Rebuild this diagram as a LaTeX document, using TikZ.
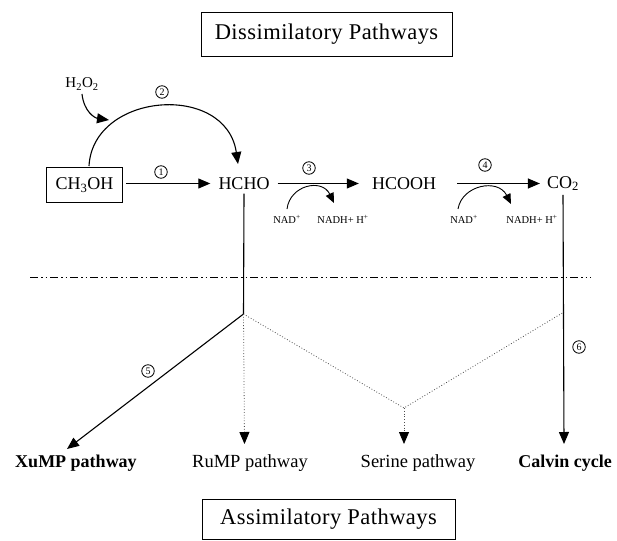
\documentclass[tikz,border=0pt]{standalone}
\usepackage{fontspec}
\setmainfont{Liberation Serif}
\usetikzlibrary{arrows.meta}
\begin{document}
\begin{tikzpicture}[x=1pt,y=-1pt,
  species/.style={inner sep=4pt, font=\fontsize{18}{20}\selectfont},
  title/.style={draw, line width=0.8pt, inner sep=0pt, font=\fontsize{22.5}{24}\selectfont\addfontfeatures{LetterSpace=2}},
  cof/.style={inner sep=1pt, font=\fontsize{10.5}{12}\selectfont},
  num/.style={circle, draw, line width=0.8pt, inner sep=0pt, minimum size=12.5pt, font=\fontsize{10}{10}\selectfont},
  plabel/.style={inner sep=0pt, anchor=base, font=\fontsize{18.5}{20}\selectfont},
  tip/.style={-{Triangle[length=12pt,width=10pt,black]}},
  arr/.style={tip, line width=1.1pt},
  arrs/.style={-{Triangle[length=10pt,width=8.5pt]}, line width=0.9pt},
  solid line/.style={line width=1.1pt},
  dotl/.style={dotted, line width=0.8pt, black!70},
  dotarr/.style={dotl, tip}
]
\useasboundingbox (0,0) rectangle (617,540);

% titles
\node[title, minimum width=251pt, minimum height=44pt] (dis) at (326.5,34) {Dissimilatory Pathways};
\node[title, minimum width=253pt, minimum height=40pt] (ass) at (328.5,519) {Assimilatory Pathways};

% species
\node[species, draw, line width=1.8pt, inner sep=0pt, minimum width=76pt, minimum height=35pt] (meoh) at (84.5,185) {CH\textsubscript{3}OH};
\node[species] (hcho) at (244,183.5) {HCHO};
\node[species] (hcooh) at (404,183.5) {HCOOH};
\node[species] (co2) at (563,183.5) {CO\textsubscript{2}};
\node[inner sep=2pt, font=\fontsize{15}{16}\selectfont] (h2o2) at (82,84) {H\textsubscript{2}O\textsubscript{2}};

% cofactors
\node[cof] (nad1) at (287,219) {NAD\textsuperscript{+}};
\node[cof] (nadh1) at (343,219) {NADH+ H\textsuperscript{+}};
\node[cof] (nad2) at (464,219) {NAD\textsuperscript{+}};
\node[cof] (nadh2) at (532,219) {NADH+ H\textsuperscript{+}};

% step numbers
\node[num] (n1) at (161,172) {1};
\node[num] (n2) at (162,92) {2};
\node[num] (n3) at (309,168) {3};
\node[num] (n4) at (485,165) {4};
\node[num] (n5) at (148,371) {5};
\node[num] (n6) at (579,347) {6};

% pathway labels
\node[plabel, font=\bfseries\fontsize{18}{20}\selectfont] (xump) at (76,467) {XuMP pathway};
\node[plabel] (rump) at (250,467) {RuMP pathway};
\node[plabel] (serine) at (418,467) {Serine pathway};
\node[plabel, font=\bfseries\fontsize{18}{20}\selectfont] (calvin) at (565,467) {Calvin cycle};

% helper coordinates
\coordinate (hb) at (243.5,314);
\coordinate (cb) at (564,312);
\coordinate (sv) at (404,408);
\coordinate (tipX) at (67,449);
\coordinate (tipR) at (244.5,444);
\coordinate (tipS) at (404,444);
\coordinate (tipC) at (564,444);
\coordinate (dl) at (30,277);
\coordinate (dr) at (591,277);
\coordinate (arcS) at (89,166);
\coordinate (arcE) at (238,164);
\coordinate (hpS) at (82,94);
\coordinate (hpE) at (109,120);
\coordinate (c1s) at (287,209);
\coordinate (c1e) at (334,203);
\coordinate (c2s) at (458,209);
\coordinate (c2e) at (511,204);

% main arrows
\draw[arr, shorten <=3pt, shorten >=4pt] (meoh.east |- hcho.west) -- (hcho.west);
\draw[arr, shorten <=4pt, shorten >=9pt] (hcho.east) -- (hcooh.west);
\draw[arr, shorten <=17pt, shorten >=3pt] (hcooh.east) -- (co2.west);

% arc 2
\draw[arr] (arcS) .. controls (93,92) and (226,82) .. (arcE);
\draw[arr] (hpS) .. controls (84,112) and (95,118) .. (hpE);

% cofactor arcs
\draw[arrs] (c1s) .. controls (290,185) and (322,178) .. (c1e);
\draw[arrs] (c2s) .. controls (462,185) and (498,178) .. (c2e);

% dash-dot separator
\draw[line width=1pt, dash pattern=on 8pt off 3pt on 1.5pt off 3pt on 1.5pt off 3pt] (dl) -- (dr);

% verticals
\draw[solid line] (hcho.south) -- (hb);
\draw[arr] (co2.south) -- (tipC);

% branches
\draw[arr] (hb) -- (tipX);
\draw[dotarr] (hb) -- (tipR);
\draw[dotl] (hb) -- (sv) -- (cb);
\draw[dotarr] (sv) -- (tipS);
\end{tikzpicture}
\end{document}
